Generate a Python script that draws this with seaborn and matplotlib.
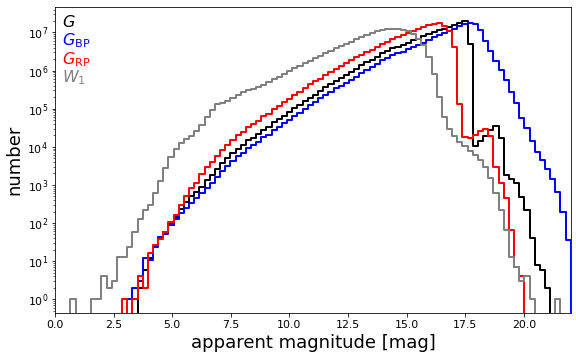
import numpy as np
import matplotlib
matplotlib.use("Agg")
import matplotlib.pyplot as plt
import seaborn as sns

# 100 magnitude bins of 0.22 mag from 0 to 22
mag_edges = np.round(np.arange(101) * 0.22, 2)

# number of sources per bin
counts_G = [
    0, 0, 0, 0, 0, 0, 0, 0, 0, 0,
    0, 0, 0, 0, 1, 0, 2, 6, 12, 25,
    40, 58, 95, 145, 230, 350, 500, 660, 900, 1320,
    1780, 2570, 3720, 5010, 6760, 8910, 11200, 14800, 17400, 21400,
    28200, 33100, 43700, 53700, 66100, 81300, 102000, 123000, 155000, 195000,
    234000, 295000, 363000, 447000, 537000, 631000, 759000, 891000, 1100000, 1410000,
    1660000, 1910000, 2240000, 2820000, 3240000, 3800000, 4170000, 4790000, 5370000, 6310000,
    6920000, 7940000, 9120000, 10500000, 11500000, 12600000, 14100000, 15800000, 18200000, 20400000,
    5130000, 10200, 14100, 19000, 27500, 35500, 16600, 1780, 1410, 1100,
    490, 214, 40, 8, 6, 2, 0, 0, 0, 0,
]
counts_BP = [
    0, 0, 0, 0, 0, 0, 0, 0, 0, 0,
    0, 0, 0, 0, 1, 2, 3, 12, 11, 23,
    43, 53, 87, 131, 180, 250, 330, 450, 620, 830,
    1120, 1620, 2340, 3160, 4270, 5620, 7080, 9330, 11000, 13500,
    17800, 20900, 27500, 33900, 41700, 51300, 64600, 77600, 97700, 123000,
    148000, 186000, 229000, 282000, 339000, 398000, 479000, 562000, 692000, 851000,
    1050000, 1230000, 1480000, 1860000, 2140000, 2510000, 2820000, 3160000, 3630000, 4170000,
    4680000, 5370000, 6310000, 7410000, 8510000, 9770000, 11000000, 12600000, 14500000, 16200000,
    17400000, 17000000, 11700000, 6030000, 3310000, 1820000, 1020000, 562000, 275000, 141000,
    57500, 30200, 14100, 7410, 4570, 2690, 1410, 661, 195, 35,
]
counts_RP = [
    0, 0, 0, 0, 0, 0, 0, 0, 0, 0,
    0, 0, 0, 1, 0, 1, 4, 2, 16, 26,
    39, 58, 107, 160, 293, 505, 810, 1120, 1900, 2950,
    4000, 5800, 8300, 11300, 15000, 20000, 25000, 33000, 39000, 48000,
    63000, 74000, 98000, 120000, 148000, 182000, 229000, 275000, 347000, 437000,
    525000, 617000, 759000, 933000, 1120000, 1320000, 1580000, 1860000, 2290000, 2630000,
    3090000, 3550000, 4170000, 4900000, 5620000, 6610000, 7590000, 8510000, 9550000, 11000000,
    12600000, 14100000, 15500000, 17000000, 17400000, 14800000, 10700000, 4170000, 132000, 18000,
    17400, 21000, 26000, 29500, 19500, 2950, 1120, 440, 65, 7,
    4, 0, 0, 0, 0, 0, 0, 0, 0, 0,
]
counts_W1 = [
    0, 0, 0, 1, 0, 0, 0, 1, 1, 4,
    2, 3, 13, 13, 24, 58, 126, 218, 293, 620,
    1260, 2800, 5300, 8500, 12300, 15800, 19000, 26000, 37000, 61000,
    91000, 132000, 141000, 158000, 190000, 234000, 275000, 302000, 331000, 372000,
    417000, 490000, 589000, 692000, 832000, 977000, 1150000, 1320000, 1550000, 1820000,
    2090000, 2450000, 2820000, 3310000, 3800000, 4370000, 5010000, 5750000, 6610000, 7590000,
    8710000, 9770000, 10700000, 11500000, 12000000, 12300000, 12000000, 11500000, 10700000, 9100000,
    6900000, 4700000, 2300000, 810000, 200000, 59000, 30000, 19000, 13500, 10200,
    7800, 6000, 4600, 3000, 1500, 620, 220, 65, 13, 7,
    3, 4, 1, 0, 0, 0, 0, 1, 0, 0,
]

band_labels = ["$G$", r"$G_\mathrm{BP}$", r"$G_\mathrm{RP}$", "$W_1$"]
band_colors = ["black", "blue", "red", "gray"]
band_counts = [counts_G, counts_BP, counts_RP, counts_W1]

fig, ax = plt.subplots(figsize=(8, 5), dpi=72)
fig.subplots_adjust(left=0.0955, right=0.991, bottom=0.13, top=0.98)

bin_centers = 0.5 * (mag_edges[:-1] + mag_edges[1:])
for counts, color in zip(band_counts, band_colors):
    sns.histplot(
        x=bin_centers,
        weights=counts,
        bins=mag_edges.tolist(),
        element="step",
        fill=True,
        color=color,
        facecolor="none",
        edgecolor=color,
        linewidth=2,
        ax=ax,
    )

ax.set_yscale("log")
ax.set_xlim(0, 22)
ax.set_ylim(0.43, 4.6e7)
ax.tick_params(axis="both", which="major", labelsize=11)
ax.set_xlabel("apparent magnitude [mag]", fontsize=18)
ax.set_ylabel("number", fontsize=18)

# coloured band names instead of a legend box
for i, (label, color) in enumerate(zip(band_labels, band_colors)):
    ax.text(0.013, 0.936 - 0.061 * i, label, color=color, fontsize=16,
            va="baseline", transform=ax.transAxes)

fig.savefig("out.png", dpi=72)
